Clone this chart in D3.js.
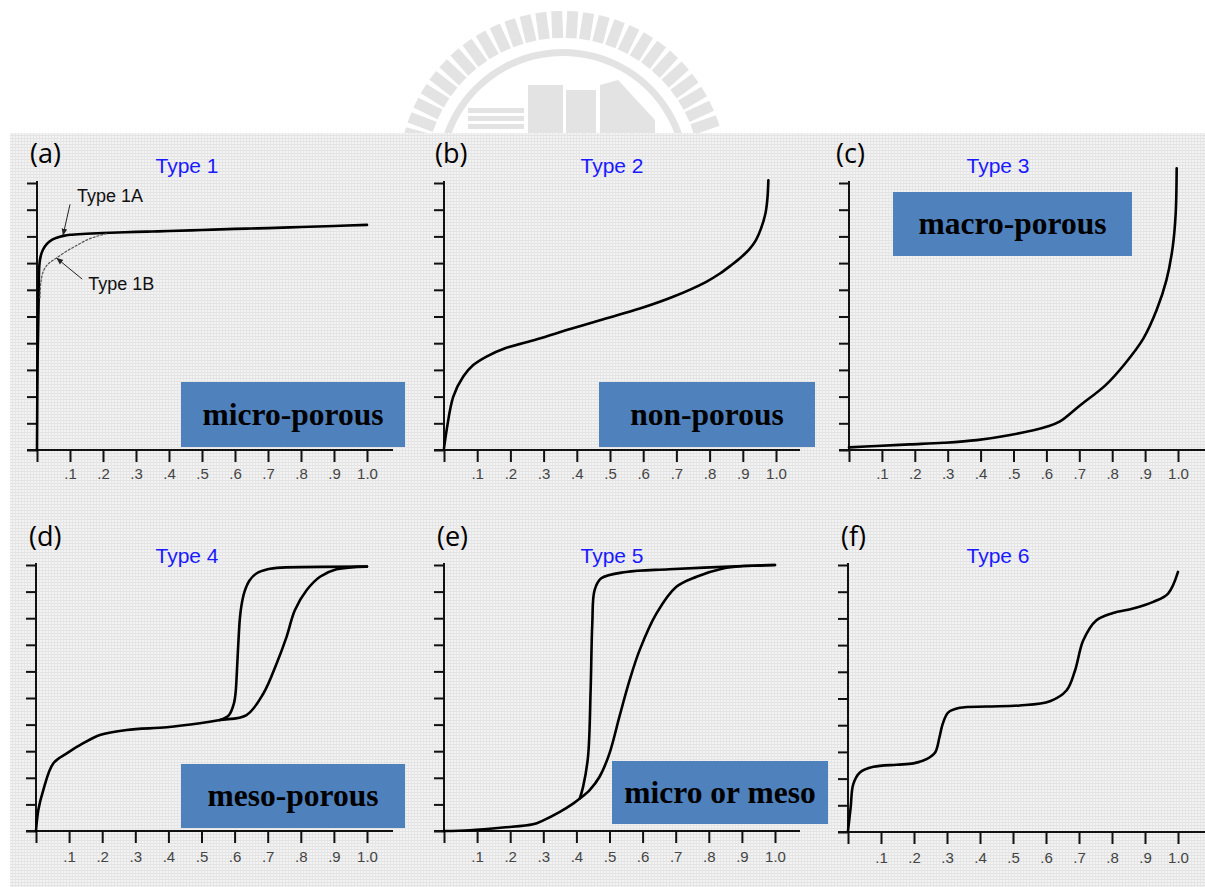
<!DOCTYPE html>
<html>
<head>
<meta charset="utf-8">
<script src="https://cdn.jsdelivr.net/npm/d3@7"></script>
<style>
  html, body { margin: 0; padding: 0; background: #ffffff; }
  svg { display: block; }
</style>
</head>
<body>
<svg id="chart" width="1205" height="887"></svg>
<script>
// ---------------- DATA ----------------
// x = relative pressure P/P0 (0..1), y = amount adsorbed (tick units 0..10)
const xTickValues = [0.1, 0.2, 0.3, 0.4, 0.5, 0.6, 0.7, 0.8, 0.9, 1.0];
const xTickLabels = [".1", ".2", ".3", ".4", ".5", ".6", ".7", ".8", ".9", "1.0"];
const yTickValues = [0, 1, 2, 3, 4, 5, 6, 7, 8, 9, 10];

const panelLetters = ["(a)", "(b)", "(c)", "(d)", "(e)", "(f)"];
const panelTitles  = ["Type 1", "Type 2", "Type 3", "Type 4", "Type 5", "Type 6"];
const boxLabels    = ["micro-porous", "non-porous", "macro-porous", "meso-porous", "micro or meso", null];

const type1A = [[0,0],[0.002,3.5],[0.005,5.6],[0.007,6.9],[0.011,7.25],[0.018,7.5],[0.03,7.72],[0.045,7.87],[0.06,7.95],[0.08,8.02],[0.1,8.06],[0.15,8.1],[0.2,8.13],[0.3,8.17],[0.4,8.2],[0.5,8.24],[0.6,8.28],[0.7,8.31],[0.8,8.35],[0.9,8.39],[1.0,8.43]];
const type1B = [[0.009,5.7],[0.012,6.3],[0.02,6.72],[0.035,6.98],[0.06,7.2],[0.09,7.45],[0.12,7.66],[0.15,7.86],[0.18,8.0],[0.21,8.1]];
const type2  = [[0,0.06],[0.008,0.75],[0.028,2.0],[0.058,2.75],[0.088,3.18],[0.128,3.5],[0.184,3.81],[0.28,4.15],[0.38,4.53],[0.48,4.9],[0.59,5.3],[0.69,5.74],[0.79,6.3],[0.83,6.6],[0.865,6.92],[0.895,7.22],[0.92,7.52],[0.94,7.87],[0.955,8.3],[0.968,8.85],[0.974,9.4],[0.977,10.1]];
const type3  = [[0,0.1],[0.084,0.15],[0.185,0.21],[0.287,0.27],[0.388,0.37],[0.49,0.56],[0.6,0.87],[0.64,1.06],[0.70,1.65],[0.78,2.43],[0.84,3.25],[0.895,4.18],[0.935,5.24],[0.965,6.37],[0.984,7.61],[0.993,8.86],[0.996,10.55]];
const type4Ads = [[0,0],[0.007,0.79],[0.022,1.54],[0.052,2.54],[0.093,2.92],[0.143,3.3],[0.193,3.61],[0.274,3.8],[0.395,3.9],[0.495,4.05],[0.556,4.17],[0.636,4.36],[0.687,5.17],[0.727,6.3],[0.757,7.3],[0.782,8.3],[0.818,9.06],[0.858,9.56],[0.908,9.84],[1.0,9.94]];
const type4Des = [[0.556,4.17],[0.583,4.36],[0.598,4.8],[0.603,5.2],[0.607,6.0],[0.611,7.0],[0.616,8.0],[0.621,8.5],[0.63,9.0],[0.645,9.42],[0.667,9.69],[0.7,9.84],[0.74,9.9],[1.0,9.94]];
const type5Ads = [[0,0],[0.078,0.03],[0.178,0.13],[0.269,0.25],[0.3,0.4],[0.35,0.72],[0.39,1.03],[0.41,1.22],[0.44,1.54],[0.47,2.04],[0.5,2.92],[0.53,4.3],[0.561,5.68],[0.591,6.8],[0.642,8.18],[0.702,9.18],[0.763,9.56],[0.843,9.87],[0.904,9.96],[1.0,10.0]];
const type5Des = [[0.41,1.22],[0.42,1.65],[0.435,2.78],[0.443,5.3],[0.448,7.8],[0.455,9.06],[0.475,9.5],[0.55,9.74],[0.68,9.84],[0.904,9.96],[1.0,10.0]];
const type6  = [[0,0.04],[0.008,0.91],[0.016,1.79],[0.036,2.23],[0.077,2.44],[0.148,2.52],[0.198,2.57],[0.238,2.73],[0.264,2.98],[0.277,3.54],[0.287,4.05],[0.304,4.48],[0.339,4.65],[0.42,4.7],[0.52,4.74],[0.612,4.9],[0.662,5.3],[0.688,6.05],[0.713,7.18],[0.753,7.93],[0.803,8.2],[0.864,8.37],[0.925,8.62],[0.97,8.93],[1.0,9.74]];

// annotation callouts for panel (a): tip = data point the arrow points at, text anchor in data units
const annotType1A = { text: "Type 1A", tip: [0.079, 8.05], tail: [0.1, 9.2], textAt: [0.121, 9.3] };
const annotType1B = { text: "Type 1B", tip: [0.06, 7.18], tail: [0.137, 6.4], textAt: [0.155, 6.0] };

// ---------------- LAYOUT ----------------
const svg = d3.select("#chart");
const defs = svg.append("defs");

// dotted grey background pattern
const pat = defs.append("pattern").attr("id", "dots").attr("patternUnits", "userSpaceOnUse")
  .attr("width", 3).attr("height", 3);
pat.append("rect").attr("width", 3).attr("height", 3).attr("fill", "#f3f3f3");
pat.append("rect").attr("x", 0).attr("y", 0).attr("width", 3).attr("height", 1).attr("fill", "#e2e2e2");
pat.append("rect").attr("x", 0).attr("y", 0).attr("width", 1).attr("height", 3).attr("fill", "#e6e6e6");

defs.append("marker").attr("id", "arrow").attr("viewBox", "0 0 10 10")
  .attr("refX", 9).attr("refY", 5).attr("markerWidth", 7).attr("markerHeight", 7)
  .attr("orient", "auto-start-reverse")
  .append("path").attr("d", "M0,1 L10,5 L0,9 z").attr("fill", "#222");

// ---- watermark emblem (faint, top centre) ----
const wm = svg.append("g").attr("fill", "#e3e3e3");
const cx = 563, cy = 175;
for (let a = -165; a <= -15; a += 5.6) {
  wm.append("rect")
    .attr("x", -5.5).attr("y", -164).attr("width", 11).attr("height", 27)
    .attr("transform", `translate(${cx},${cy}) rotate(${a + 90})`);
}
wm.append("path")
  .attr("d", d3.arc().innerRadius(119).outerRadius(126).startAngle(-1.25 * Math.PI / 2).endAngle(1.25 * Math.PI / 2)())
  .attr("transform", `translate(${cx},${cy})`);
wm.append("rect").attr("x", 528).attr("y", 85).attr("width", 35).attr("height", 50);
wm.append("rect").attr("x", 566).attr("y", 90).attr("width", 30).attr("height", 45);
wm.append("path").attr("d", "M600,135 L600,85 L618,80 L655,120 L655,135 Z");
[0, 1, 2].forEach(i => wm.append("rect").attr("x", 468).attr("y", 108 + i * 8).attr("width", 56).attr("height", 5));

// background panel area
svg.append("rect").attr("x", 10).attr("y", 133).attr("width", 1195).attr("height", 754).attr("fill", "url(#dots)");

const panels = [
  { x0: 37,  x1: 367,  y0: 450, y10: 183, axRight: 393,  letterX: 30,  letterY: 163, titleX: 187, titleY: 173, box: [181, 382, 405, 447],
    series: [{ d: type1A }, { d: type1B, dashed: true }], tickPad: 6 },
  { x0: 444, x1: 776,  y0: 450, y10: 183, axRight: 800,  letterX: 435, letterY: 163, titleX: 612, titleY: 173, box: [599, 382, 815, 447],
    series: [{ d: type2 }], tickPad: 6 },
  { x0: 849, x1: 1178, y0: 450, y10: 183, axRight: 1205, letterX: 836, letterY: 163, titleX: 998, titleY: 173, box: [893, 192, 1132, 256],
    series: [{ d: type3 }], tickPad: 6 },
  { x0: 36,  x1: 367,  y0: 831, y10: 565, axRight: 393,  letterX: 29,  letterY: 546, titleX: 187, titleY: 563, box: [181, 764, 405, 828],
    series: [{ d: type4Ads }, { d: type4Des }], tickPad: 8 },
  { x0: 444, x1: 775,  y0: 831, y10: 565, axRight: 800,  letterX: 437, letterY: 546, titleX: 612, titleY: 563, box: [612, 761, 828, 824],
    series: [{ d: type5Ads }, { d: type5Des }], tickPad: 8 },
  { x0: 848, x1: 1178, y0: 832, y10: 565, axRight: 1205, letterX: 841, letterY: 546, titleX: 998, titleY: 563, box: null,
    series: [{ d: type6 }], tickPad: 8 }
];

panels.forEach((p, i) => {
  const g = svg.append("g");
  const x = d3.scaleLinear().domain([0, 1]).range([p.x0, p.x1]);
  const y = d3.scaleLinear().domain([0, 10]).range([p.y0, p.y10]);

  if (p.box && boxLabels[i]) {
    const [bx0, by0, bx1, by1] = p.box;
    g.append("rect").attr("x", bx0).attr("y", by0).attr("width", bx1 - bx0).attr("height", by1 - by0)
      .attr("fill", "#4f81bd");
    g.append("text").attr("x", (bx0 + bx1) / 2).attr("y", (by0 + by1) / 2 + 10)
      .attr("text-anchor", "middle")
      .attr("font-family", "'Liberation Serif', 'Times New Roman', serif")
      .attr("font-weight", "bold").attr("font-size", 31.5).attr("fill", "#000")
      .text(boxLabels[i]);
  }

  // axes lines
  g.append("line").attr("x1", p.x0 - 10).attr("x2", p.axRight).attr("y1", p.y0).attr("y2", p.y0)
    .attr("stroke", "#111").attr("stroke-width", 2);
  g.append("line").attr("x1", p.x0).attr("x2", p.x0).attr("y1", p.y0).attr("y2", y(10) - 2)
    .attr("stroke", "#111").attr("stroke-width", 2);

  // y ticks (no labels)
  const ya = g.append("g").attr("transform", `translate(${p.x0},0)`)
    .call(d3.axisLeft(y).tickValues(yTickValues).tickSize(10).tickFormat(""));
  ya.select(".domain").remove();
  ya.selectAll(".tick line").attr("stroke", "#111").attr("stroke-width", 2);

  // x ticks with labels
  const xa = g.append("g").attr("transform", `translate(0,${p.y0})`)
    .call(d3.axisBottom(x).tickValues([0].concat(xTickValues)).tickSize(12).tickPadding(p.tickPad)
      .tickFormat((d) => { const k = xTickValues.findIndex(v => Math.abs(v - d) < 1e-9); return k >= 0 ? xTickLabels[k] : ""; }));
  xa.select(".domain").remove();
  xa.selectAll(".tick line").attr("stroke", "#111").attr("stroke-width", 2);
  xa.selectAll(".tick text").attr("font-family", "'Liberation Sans', Arial, sans-serif")
    .attr("font-size", 15).attr("fill", "#444");

  // curves
  const line = d3.line().x(d => x(d[0])).y(d => y(d[1])).curve(d3.curveCatmullRom.alpha(0.5));
  p.series.forEach(s => {
    g.append("path").datum(s.d).attr("d", line).attr("fill", "none")
      .attr("stroke", s.dashed ? "#555" : "#000")
      .attr("stroke-width", s.dashed ? 1.2 : 2.6)
      .attr("stroke-dasharray", s.dashed ? "2,2" : null)
      .attr("stroke-linejoin", "round").attr("stroke-linecap", "round");
  });

  // panel letter and title
  g.append("text").attr("x", p.letterX).attr("y", p.letterY)
    .attr("font-family", "'Open Sans', 'Liberation Sans', sans-serif").attr("font-size", 27).attr("fill", "#000")
    .text(panelLetters[i]);
  g.append("text").attr("x", p.titleX).attr("y", p.titleY).attr("text-anchor", "middle")
    .attr("font-family", "'Liberation Sans', Arial, sans-serif").attr("font-size", 21).attr("fill", "#1a1aff")
    .text(panelTitles[i]);

  // annotations for panel (a)
  if (i === 0) {
    [annotType1A, annotType1B].forEach(a => {
      g.append("line").attr("x1", x(a.tail[0])).attr("y1", y(a.tail[1]))
        .attr("x2", x(a.tip[0])).attr("y2", y(a.tip[1]))
        .attr("stroke", "#222").attr("stroke-width", 1).attr("marker-end", "url(#arrow)");
      g.append("text").attr("x", x(a.textAt[0])).attr("y", y(a.textAt[1]))
        .attr("font-family", "'Liberation Sans', Arial, sans-serif").attr("font-size", 18).attr("fill", "#111")
        .text(a.text);
    });
  }
});
</script>
</body>
</html>
